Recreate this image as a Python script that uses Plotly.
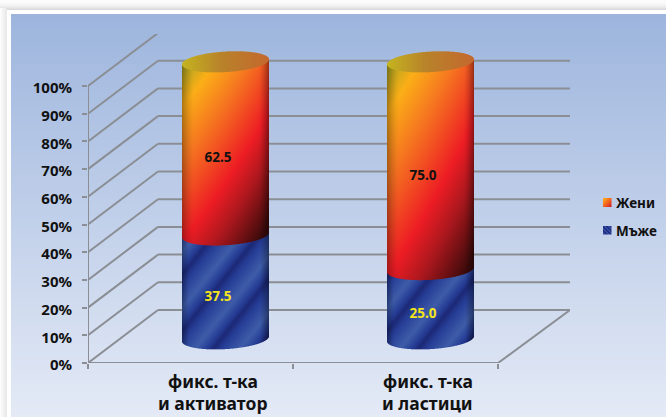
import numpy as np
import plotly.graph_objects as go

# Chart data
category_lines = [["фикс. т-ка", "и активатор"], ["фикс. т-ка", "и ластици"]]
men = [37.5, 25.0]
women = [62.5, 75.0]
series_names = ["Мъже", "Жени"]
tick_values = list(range(0, 101, 10))
tick_labels = [f"{v}%" for v in tick_values]

# Oblique 3D geometry, in pixels per axis unit
W, H = 666, 417
LEFT, RIGHT, TOP, BOTTOM = 88, 570, 34, 363
PX_X = 205.0
PX_Y = 2.77
DEPTH_X = 70 / PX_X
DEPTH_Y = 53 / PX_Y
FLOOR_END = 2.0
CYL_X = [0.673, 1.673]
CYL_BASE = 8.9
CYL_A = 43.5
CYL_B = 10.3
CYL_TILT = 0.0575
CATEGORY_LABEL_X = [0.609, 1.658]
SS = 3


def ramp(t, stops):
    xs = [s[0] for s in stops]
    return np.stack([np.interp(t, xs, [s[1][i] for s in stops]) for i in range(3)], axis=-1)


WARM = [(0.0, (172, 165, 32)), (0.22, (251, 174, 23)), (0.55, (245, 115, 32)),
        (1.0, (237, 28, 36)), (1.25, (175, 24, 30)), (1.65, (58, 10, 10))]
COOL = [(0.0, (28, 40, 118)), (0.2, (38, 62, 150)), (0.6, (62, 92, 168)), (0.85, (38, 62, 150)), (1.0, (28, 40, 118))]


def warm_color(xn, yn):
    col = ramp(0.72 * xn + yn, WARM)
    left = np.clip(1 - xn / 0.14, 0, 1) ** 1.5
    right = np.clip((xn - 0.88) / 0.12, 0, 1) ** 1.5
    return col * (1 - 0.32 * left - 0.38 * right)[..., None]


def cool_color(px, py, xn):
    phase = ((px + py / 1.25) / 45.0 + 0.1) % 1.0
    col = ramp(phase, COOL)
    left = np.clip(1 - xn / 0.08, 0, 1)
    right = np.clip((xn - 0.9) / 0.1, 0, 1)
    return col * (1 - 0.3 * left - 0.4 * right)[..., None]


def cylinder_image(center, low, high):
    """RGBA raster of one stacked cylinder, placed in axis coordinates."""
    x_low = center - (CYL_A + 1) / PX_X
    top_val = CYL_BASE + low + high
    y_low = CYL_BASE - 8
    cols = int(round(2 * (CYL_A + 1)))
    rows = int(round((top_val - y_low) * PX_Y + 24))
    # sample offsets are pixels from the axis of the cylinder, upward positive
    sx = (np.arange(cols * SS) + 0.5) / SS - (CYL_A + 1)
    sy = (np.arange(rows * SS) + 0.5) / SS + (y_low - CYL_BASE) * PX_Y
    gx, gy = np.meshgrid(sx, sy)
    inside = np.abs(gx) <= CYL_A
    arc = CYL_B * np.sqrt(np.clip(1 - (gx / CYL_A) ** 2, 0, 1))
    sheared = gy - gx * CYL_TILT
    xn = (gx + CYL_A) / (2 * CYL_A)

    rgb = np.zeros(gx.shape + (3,))
    alpha = np.zeros(gx.shape)

    level_men = low * PX_Y
    level_top = (low + high) * PX_Y

    men_mask = inside & (sheared >= -arc) & (sheared < level_men - arc)
    rgb[men_mask] = cool_color(gx, -gy, xn)[men_mask]
    alpha[men_mask] = 1

    yn = (level_top - sheared - arc) / (high * PX_Y)
    women_mask = inside & (sheared >= level_men - arc) & (sheared < level_top - arc)
    rgb[women_mask] = warm_color(xn, yn)[women_mask]
    alpha[women_mask] = 1

    cap_mask = inside & (np.abs(sheared - level_top) <= arc)
    cap = ramp(xn, [(0.0, (196, 180, 32)), (0.45, (184, 130, 42)), (1.0, (196, 104, 46))])
    rgb[cap_mask] = cap[cap_mask]
    alpha[cap_mask] = 1

    # box-filter down to screen pixels
    a = alpha.reshape(rows, SS, cols, SS).mean(axis=(1, 3))
    premult = (rgb * alpha[..., None]).reshape(rows, SS, cols, SS, 3).mean(axis=(1, 3))
    col = premult / np.maximum(a[..., None], 1e-6)
    z = np.dstack([col, a[..., None] * 255]).round().astype(np.uint8)
    return z, x_low, y_low, 1 / PX_X, 1 / PX_Y


def legend_swatches():
    z = np.zeros((37, 9, 4), dtype=np.uint8)
    yy, xx = np.mgrid[0:9, 0:9]
    z[0:9, 0:9, :3] = ramp((xx + yy) / 16 * 1.2, [(0.0, (251, 174, 23)), (0.6, (245, 100, 32)), (1.2, (205, 28, 36))]).round()
    z[0:9, 0:9, 3] = 255
    z[28:37, 0:9, :3] = ramp(((xx + (8 - yy)) % 4) / 3, [(0.0, (34, 50, 140)), (0.5, (62, 92, 170)), (1.0, (30, 42, 125))]).round()
    z[28:37, 0:9, 3] = 255
    return z


shapes = []


def paper_rect(x0, y0, x1, y1, color):
    shapes.append(dict(type="rect", xref="paper", yref="paper", layer="below",
                       x0=x0 / W, x1=x1 / W, y0=1 - y0 / H, y1=1 - y1 / H,
                       fillcolor=color, line_width=0))


def mix(a, b, t):
    return "rgb(%d,%d,%d)" % tuple(round(a[i] + (b[i] - a[i]) * t) for i in range(3))


# Page frame: soft grey shadow, white mat, blue graded panel
for y in range(0, 10):
    paper_rect(0, y, W, y + 1, mix((252, 252, 252), (218, 218, 218), (y / 9) ** 2))
paper_rect(0, 10, W, 14, "#ffffff")
for x in range(0, 7):
    paper_rect(x, 8, x + 1, H, mix((252, 252, 252), (232, 232, 232), x / 6))
paper_rect(7, 10, 11, H, "#ffffff")
for y in range(14, H):
    paper_rect(11, y, W, y + 1, mix((157, 181, 221), (228, 234, 246), (y - 14) / (H - 15)))

GRID = "#8b8f95"


def grid_line(x0, y0, x1, y1, width=2):
    shapes.append(dict(type="line", xref="x", yref="y", layer="below", x0=x0, y0=y0, x1=x1, y1=y1,
                       line=dict(color=GRID, width=width)))


x_back_end = (RIGHT - LEFT) / PX_X
for v in tick_values:
    grid_line(0, v, DEPTH_X, v + DEPTH_Y)
    grid_line(DEPTH_X, v + DEPTH_Y, x_back_end, v + DEPTH_Y)
grid_line(0, 0, 0, 100)
grid_line(0, 0, FLOOR_END, 0)
grid_line(FLOOR_END, 0, x_back_end, DEPTH_Y)

fig = go.Figure()

for cx, m, f in zip(CYL_X, men, women):
    z, x0, y0, dx, dy = cylinder_image(cx, m, f)
    fig.add_trace(go.Image(z=z, x0=x0, y0=y0, dx=dx, dy=dy, colormodel="rgba256", hoverinfo="skip"))

# Value labels sit on the front of each segment
label_x = [cx - 8 / PX_X for cx in CYL_X]
drop = 11 / PX_Y
fig.add_trace(go.Scatter(
    x=label_x, y=[CYL_BASE + m / 2 - drop for m in men], mode="text",
    text=[f"{m:.1f}" for m in men], textposition="middle center", name=series_names[0],
    textfont=dict(family="Noto Sans", size=13.5, color="#f5e51b", weight="bold"),
    hoverinfo="skip", showlegend=False, cliponaxis=False))
fig.add_trace(go.Scatter(
    x=label_x, y=[CYL_BASE + m + f / 2 - drop for m, f in zip(men, women)], mode="text",
    text=[f"{f:.1f}" for f in women], textposition="middle center", name=series_names[1],
    textfont=dict(family="Noto Sans", size=13.5, color="#111111", weight="bold"),
    hoverinfo="skip", showlegend=False, cliponaxis=False))

# Legend swatches live on their own small hidden axes
fig.add_trace(go.Image(z=legend_swatches(), colormodel="rgba256", xaxis="x3", yaxis="y3", hoverinfo="skip"))

annotations = []
for lx, lines in zip(CATEGORY_LABEL_X, category_lines):
    for j, line in enumerate(lines):
        annotations.append(dict(
            x=lx, y=0, xref="x", yref="y", yshift=-18 - 22 * j,
            text=line, showarrow=False, xanchor="center", yanchor="middle",
            font=dict(family="Noto Sans", size=17.5, color="#111111", weight="bold")))
for name, py in zip(["Жени", "Мъже"], [202.5, 230.5]):
    annotations.append(dict(
        x=614 / W, y=1 - py / H, xref="paper", yref="paper", text=name, showarrow=False,
        xanchor="left", yanchor="middle",
        font=dict(family="Noto Sans", size=13.5, color="#111111", weight="bold")))

fig.update_layout(
    width=W, height=H, autosize=False, showlegend=False,
    margin=dict(l=0, r=0, t=0, b=0, pad=0),
    paper_bgcolor="#ffffff", plot_bgcolor="rgba(0,0,0,0)",
    shapes=shapes, annotations=annotations,
    xaxis=dict(domain=[LEFT / W, RIGHT / W], range=[0, x_back_end], tickvals=[0, 1, 2], showticklabels=False,
               ticks="outside", ticklen=5, tickwidth=1.5, tickcolor=GRID, showgrid=False, zeroline=False,
               showline=False, fixedrange=True, automargin=False),
    yaxis=dict(domain=[1 - BOTTOM / H, 1 - TOP / H], range=[0, (BOTTOM - TOP) / PX_Y], tickvals=tick_values,
               ticktext=tick_labels, ticks="outside", ticklen=5, tickwidth=1.5, tickcolor=GRID, showgrid=False,
               zeroline=False, showline=False, fixedrange=True, ticklabelstandoff=7, ticklabelshift=2,
               scaleanchor=False, automargin=False,
               tickfont=dict(family="Noto Sans", size=15, color="#111111", weight="bold")),
    xaxis3=dict(domain=[603 / W, 612 / W], range=[0, 9], visible=False, anchor="y3", fixedrange=True,
                automargin=False),
    yaxis3=dict(domain=[1 - 235 / H, 1 - 198 / H], range=[37, 0], visible=False, anchor="x3",
                fixedrange=True, scaleanchor=False, automargin=False),
)

fig.write_html("out.html")
